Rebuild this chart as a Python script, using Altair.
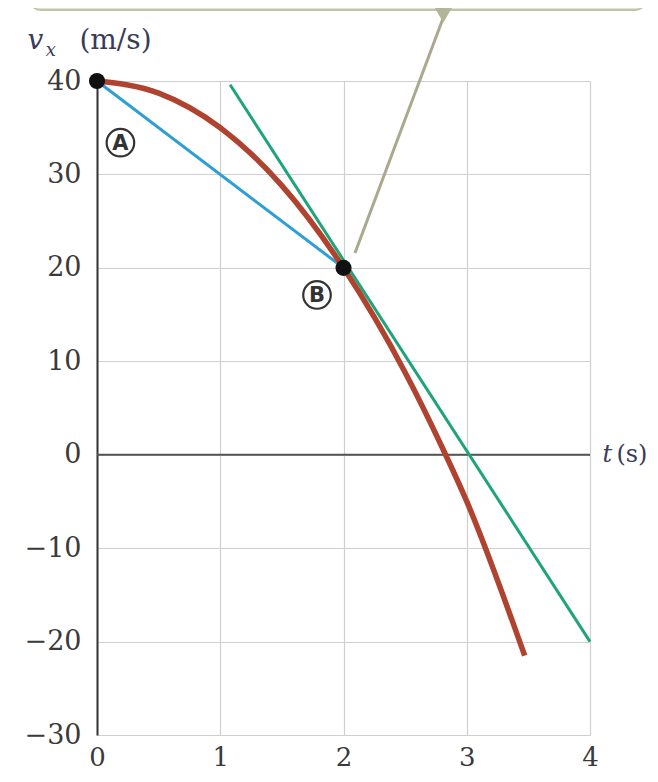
import altair as alt
import pandas as pd

# ---- data ----
t_curve = [0.0, 0.5, 1.0, 1.5, 2.0, 2.5, 2.8, 3.0, 3.47]
v_curve = [40.0, 38.7, 35.0, 28.8, 20.0, 8.8, 0.8, -5.0, -21.5]

chord_t = [0.0, 2.0]
chord_v = [40.0, 20.0]

tangent_t = [1.08, 4.0]
tangent_v = [39.6, -20.0]

dot_t = [0.0, 2.0]
dot_v = [40.0, 20.0]

label_names = ["A", "B"]
label_t = [0.19, 1.785]
label_v = [33.4, 17.1]

x_ticks = [0, 1, 2, 3, 4]
y_ticks = [-30, -20, -10, 0, 10, 20, 30, 40]

# callout pointer (from callout box down to point B)
pointer_t = [2.807, 2.093]
pointer_v = [46.7, 21.6]
box_t = [-0.54, 4.45]
box_v = [47.6, 60.0]

SERIF = "DejaVu Serif"

xs = alt.Scale(domain=[0, 4], nice=False, zero=False)
ys = alt.Scale(domain=[-30, 40], nice=False, zero=False)
x_axis = alt.Axis(values=x_ticks, grid=True, gridColor="#cfcfcf", gridWidth=1.2,
                  domain=False, ticks=False, labelFont=SERIF, labelFontSize=26,
                  labelColor="#3a3a3a", labelPadding=9, labelFlush=False, title=None)
y_axis = alt.Axis(values=y_ticks, grid=True, gridColor="#cfcfcf", gridWidth=1.2,
                  domain=True, domainColor="#333333", domainWidth=2, ticks=False,
                  labelFont=SERIF, labelFontSize=27, labelColor="#3a3a3a",
                  labelPadding=16, labelFlush=False, title=None)


def X(field="t"):
    return alt.X(f"{field}:Q", scale=xs, axis=x_axis)


def Y(field="v"):
    return alt.Y(f"{field}:Q", scale=ys, axis=y_axis)


box_df = pd.DataFrame({"t": [box_t[0]], "t2": [box_t[1]], "v": [box_v[0]], "v2": [box_v[1]]})
box = alt.Chart(box_df).mark_rect(fill="#e4e4d2", stroke="#c2c2aa", strokeWidth=2,
                                  cornerRadius=10).encode(
    x=X(), x2="t2:Q", y=Y(), y2="v2:Q")

zero_df = pd.DataFrame({"t": [0], "t2": [4], "v": [0]})
zero = alt.Chart(zero_df).mark_rule(color="#555555", strokeWidth=2).encode(
    x=X(), x2="t2:Q", y=Y())

pointer_df = pd.DataFrame({"t": pointer_t, "v": pointer_v})
pointer = alt.Chart(pointer_df).mark_line(color="#a9a98e", strokeWidth=3).encode(
    x=X(), y=Y())
tri_df = pd.DataFrame({"t": [2.81], "v": [47.3]})
tri = alt.Chart(tri_df).mark_point(shape="triangle-down", filled=True, size=520,
                                   color="#b4b496", opacity=1).encode(x=X(), y=Y())

chord_df = pd.DataFrame({"t": chord_t, "v": chord_v})
chord = alt.Chart(chord_df).mark_line(color="#2e9fd4", strokeWidth=3).encode(x=X(), y=Y())

tan_df = pd.DataFrame({"t": tangent_t, "v": tangent_v})
tangent = alt.Chart(tan_df).mark_line(color="#1fa37a", strokeWidth=3).encode(x=X(), y=Y())

curve_df = pd.DataFrame({"t": t_curve, "v": v_curve})
curve = alt.Chart(curve_df).mark_line(color="#b0432f", strokeWidth=5.5,
                                      interpolate="monotone").encode(x=X(), y=Y())

dot_df = pd.DataFrame({"t": dot_t, "v": dot_v})
dots = alt.Chart(dot_df).mark_point(shape="circle", filled=True, size=260,
                                    color="#111111", opacity=1).encode(x=X(), y=Y())

lab_df = pd.DataFrame({"t": label_t, "v": label_v, "name": label_names})
rings = alt.Chart(lab_df).mark_point(shape="circle", filled=False, size=760,
                                     stroke="#333333", strokeWidth=2.2, opacity=1).encode(
    x=X(), y=Y())
letters = alt.Chart(lab_df).mark_text(font="DejaVu Sans", fontSize=21, fontWeight="bold",
                                      color="#333333", baseline="middle",
                                      align="center", dy=1).encode(
    x=X(), y=Y(), text="name:N")

# axis titles as text
ttl_df = pd.DataFrame({
    "t": [-0.50, -0.375, 0.15, 4.14, 4.34],
    "v": [44.3, 43.2, 44.3, 0.0, 0.0],
    "txt": ["v", "x", "(m/s)", "t", "(s)"],
    "style": ["italic", "italic", "normal", "italic", "normal"],
    "size": [28, 18, 28, 24, 24],
})
ttl_it = alt.Chart(ttl_df[ttl_df["style"] == "italic"]).mark_text(
    font=SERIF, fontStyle="italic", color="#3a3a5a", baseline="middle", align="center").encode(
    x=X(), y=Y(), text="txt:N", size=alt.Size("size:Q", scale=None, legend=None))
ttl_rm = alt.Chart(ttl_df[ttl_df["style"] == "normal"]).mark_text(
    font=SERIF, color="#3a3a5a", baseline="middle", align="center").encode(
    x=X(), y=Y(), text="txt:N", size=alt.Size("size:Q", scale=None, legend=None))

chart = alt.layer(box, zero, pointer, tri, chord, tangent, curve, dots, rings, letters,
                  ttl_it, ttl_rm).properties(
    width=493, height=654,
    autosize=alt.AutoSizeParams(type="none"),
    padding={"left": 89, "top": 73, "right": 60, "bottom": 39},
    background="white",
).configure_view(stroke=None)

chart.save("out.html", embed_options={"renderer": "svg", "actions": False})
